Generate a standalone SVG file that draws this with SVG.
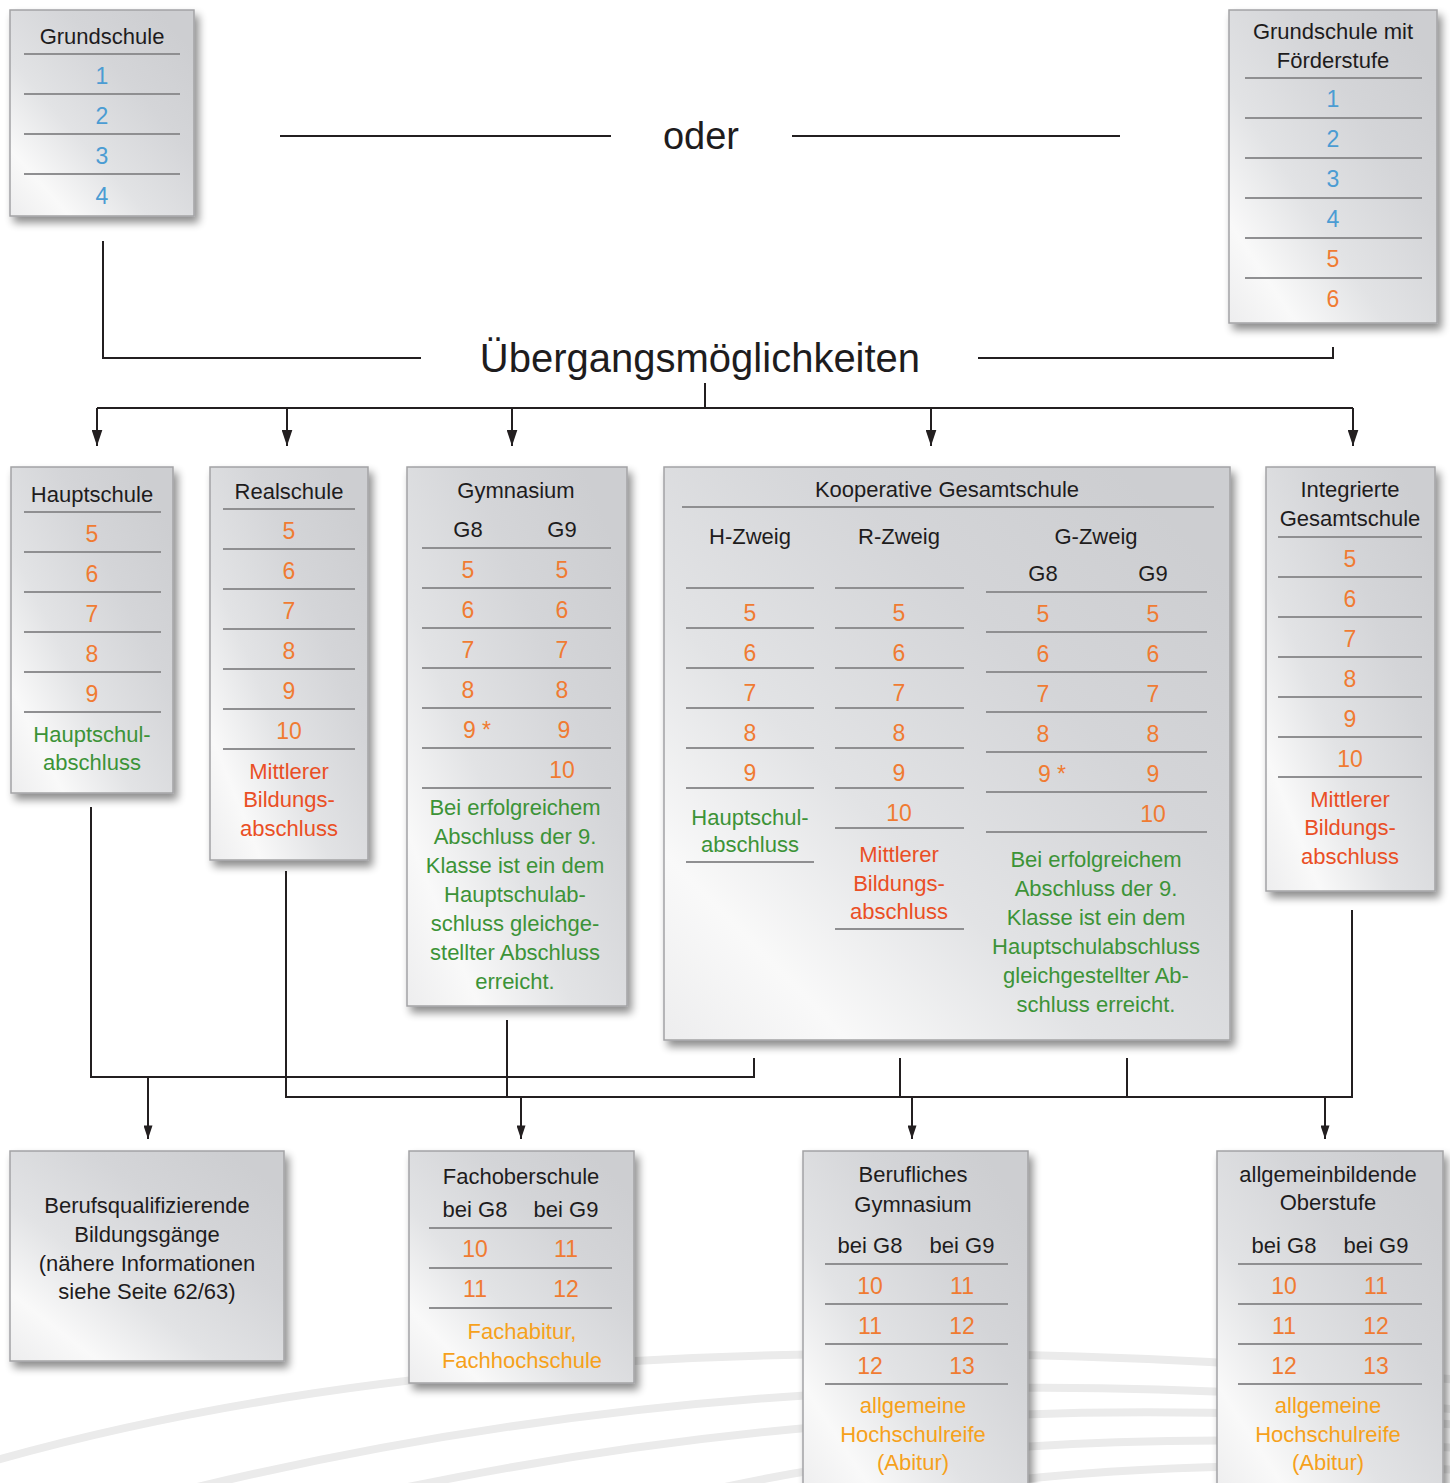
<svg xmlns="http://www.w3.org/2000/svg" width="1450" height="1483" viewBox="0 0 1450 1483">
<defs>
<linearGradient id="bg" x1="0" y1="1" x2="0.9" y2="0.1">
<stop offset="0" stop-color="#ededee"/>
<stop offset="0.18" stop-color="#f9f9f9"/>
<stop offset="0.42" stop-color="#e2e3e5"/>
<stop offset="0.72" stop-color="#d4d5d8"/>
<stop offset="1" stop-color="#cdced1"/>
</linearGradient>
<filter id="sh" x="-10%" y="-10%" width="130%" height="130%">
<feGaussianBlur in="SourceAlpha" stdDeviation="4"/>
<feOffset dx="4" dy="6"/>
<feComponentTransfer><feFuncA type="linear" slope="0.45"/></feComponentTransfer>
<feMerge><feMergeNode/><feMergeNode in="SourceGraphic"/></feMerge>
</filter>
<marker id="ah" viewBox="0 0 15 10" refX="15" refY="5" markerWidth="16" markerHeight="11" markerUnits="userSpaceOnUse" orient="auto">
<path d="M0,0 L15,5 L0,10 Z" fill="#231f20"/>
</marker>
<marker id="ah2" viewBox="0 0 15 10" refX="15" refY="5" markerWidth="14" markerHeight="9" markerUnits="userSpaceOnUse" orient="auto">
<path d="M0,0 L15,5 L0,10 Z" fill="#231f20"/>
</marker>
</defs>
<style>
text{font-family:"Liberation Sans",Arial,sans-serif;font-size:22px;text-anchor:middle;fill:#1e1c1d}
.bl{fill:#4b9cd3;font-size:23px}
.o{fill:#f07b32;font-size:23px}
.r{fill:#ea4f25}
.g{fill:#3c9337}
.y{fill:#f6a11b}
.box{fill:url(#bg);stroke:#a3a3a5;stroke-width:1.5;filter:url(#sh)}
.sep{stroke:#8f8f91;stroke-width:2}
.c{fill:none;stroke:#231f20;stroke-width:2}
.sw{fill:none;stroke:#ebebeb;stroke-width:8}
</style>

<g id="background">
<path class="sw" d="M -10 1462 Q 560 1300 1460 1380"/>
<path class="sw" d="M 185 1490 Q 800 1340 1460 1410"/>
<path class="sw" d="M 370 1495 Q 900 1380 1460 1425"/>
<path class="sw" d="M 690 1495 Q 1000 1420 1460 1448"/>
<path class="sw" d="M 900 1495 Q 1150 1455 1460 1470"/>
</g>

<g id="connectors">
<path class="c" stroke-width="2.5" d="M103 241 V358 H421"/>
<path class="c" stroke-width="2.5" d="M978 358 H1333 V347"/>
<line class="c" x1="280" y1="136" x2="611" y2="136"/>
<line class="c" x1="792" y1="136" x2="1120" y2="136"/>
<path class="c" stroke-width="2.5" d="M705 383 V408"/>
<path class="c" stroke-width="2.5" d="M97 408 H1353"/>
<line class="c" stroke-width="2.5" x1="97" y1="408" x2="97" y2="446" marker-end="url(#ah)"/>
<line class="c" stroke-width="2.5" x1="287" y1="408" x2="287" y2="446" marker-end="url(#ah)"/>
<line class="c" stroke-width="2.5" x1="512" y1="408" x2="512" y2="446" marker-end="url(#ah)"/>
<line class="c" stroke-width="2.5" x1="931" y1="408" x2="931" y2="446" marker-end="url(#ah)"/>
<line class="c" stroke-width="2.5" x1="1353" y1="408" x2="1353" y2="446" marker-end="url(#ah)"/>

<path class="c" d="M91 807 V1077"/>
<path class="c" stroke-width="3" d="M90 1077 H755"/>
<path class="c" d="M754 1058 V1077"/>
<path class="c" d="M286 871 V1097 H1352 V910"/>
<path class="c" stroke-width="1.5" d="M507 1020 V1097"/>
<path class="c" stroke-width="1.5" d="M900 1058 V1097"/>
<path class="c" stroke-width="2" d="M1127 1058 V1097"/>
<line class="c" stroke-width="1.5" x1="148" y1="1077" x2="148" y2="1139" marker-end="url(#ah2)"/>
<line class="c" stroke-width="1.5" x1="521" y1="1097" x2="521" y2="1139" marker-end="url(#ah2)"/>
<line class="c" stroke-width="1.5" x1="912" y1="1097" x2="912" y2="1139" marker-end="url(#ah2)"/>
<line class="c" stroke-width="1.5" x1="1325" y1="1097" x2="1325" y2="1139" marker-end="url(#ah2)"/>
</g>

<g id="labels">
<text x="701" y="149" style="font-size:38px">oder</text>
<text x="700" y="372" style="font-size:40px">Übergangsmöglichkeiten</text>
</g>

<g id="grundschule">
<rect class="box" x="10" y="10" width="184" height="206"/>
<text x="102" y="44">Grundschule</text>
<line class="sep" x1="24" y1="54" x2="180" y2="54"/>
<line class="sep" x1="24" y1="94" x2="180" y2="94"/>
<line class="sep" x1="24" y1="134" x2="180" y2="134"/>
<line class="sep" x1="24" y1="174" x2="180" y2="174"/>
<text class="bl" x="102" y="84">1</text>
<text class="bl" x="102" y="124">2</text>
<text class="bl" x="102" y="164">3</text>
<text class="bl" x="102" y="204">4</text>
</g>

<g id="grundschule-foerderstufe">
<rect class="box" x="1229" y="10" width="208" height="313"/>
<text x="1333" y="39">Grundschule mit</text>
<text x="1333" y="68">Förderstufe</text>
<line class="sep" x1="1245" y1="78" x2="1422" y2="78"/>
<line class="sep" x1="1245" y1="118" x2="1422" y2="118"/>
<line class="sep" x1="1245" y1="158" x2="1422" y2="158"/>
<line class="sep" x1="1245" y1="198" x2="1422" y2="198"/>
<line class="sep" x1="1245" y1="238" x2="1422" y2="238"/>
<line class="sep" x1="1245" y1="278" x2="1422" y2="278"/>
<text class="bl" x="1333" y="107">1</text>
<text class="bl" x="1333" y="147">2</text>
<text class="bl" x="1333" y="187">3</text>
<text class="bl" x="1333" y="227">4</text>
<text class="o" x="1333" y="267">5</text>
<text class="o" x="1333" y="307">6</text>
</g>

<g id="hauptschule">
<rect class="box" x="11" y="467" width="162" height="326"/>
<text x="92" y="502">Hauptschule</text>
<line class="sep" x1="24" y1="512" x2="161" y2="512"/>
<line class="sep" x1="24" y1="552" x2="161" y2="552"/>
<line class="sep" x1="24" y1="592" x2="161" y2="592"/>
<line class="sep" x1="24" y1="632" x2="161" y2="632"/>
<line class="sep" x1="24" y1="672" x2="161" y2="672"/>
<line class="sep" x1="24" y1="712" x2="161" y2="712"/>
<text class="o" x="92" y="542">5</text>
<text class="o" x="92" y="582">6</text>
<text class="o" x="92" y="622">7</text>
<text class="o" x="92" y="662">8</text>
<text class="o" x="92" y="702">9</text>
<text class="g" x="92" y="742">Hauptschul-</text>
<text class="g" x="92" y="770">abschluss</text>
</g>

<g id="realschule">
<rect class="box" x="210" y="467" width="158" height="393"/>
<text x="289" y="499">Realschule</text>
<line class="sep" x1="223" y1="509" x2="355" y2="509"/>
<line class="sep" x1="223" y1="549" x2="355" y2="549"/>
<line class="sep" x1="223" y1="589" x2="355" y2="589"/>
<line class="sep" x1="223" y1="629" x2="355" y2="629"/>
<line class="sep" x1="223" y1="669" x2="355" y2="669"/>
<line class="sep" x1="223" y1="709" x2="355" y2="709"/>
<line class="sep" x1="223" y1="749" x2="355" y2="749"/>
<text class="o" x="289" y="539">5</text>
<text class="o" x="289" y="579">6</text>
<text class="o" x="289" y="619">7</text>
<text class="o" x="289" y="659">8</text>
<text class="o" x="289" y="699">9</text>
<text class="o" x="289" y="739">10</text>
<text class="r" x="289" y="779">Mittlerer</text>
<text class="r" x="289" y="807">Bildungs-</text>
<text class="r" x="289" y="836">abschluss</text>
</g>

<g id="gymnasium">
<rect class="box" x="407" y="467" width="220" height="539"/>
<text x="516" y="498">Gymnasium</text>
<text x="468" y="537">G8</text>
<text x="562" y="537">G9</text>
<line class="sep" x1="422" y1="548" x2="611" y2="548"/>
<line class="sep" x1="422" y1="588" x2="611" y2="588"/>
<line class="sep" x1="422" y1="628" x2="611" y2="628"/>
<line class="sep" x1="422" y1="668" x2="611" y2="668"/>
<line class="sep" x1="422" y1="708" x2="611" y2="708"/>
<line class="sep" x1="422" y1="748" x2="611" y2="748"/>
<line class="sep" x1="422" y1="788" x2="611" y2="788"/>
<text class="o" x="468" y="578">5</text><text class="o" x="562" y="578">5</text>
<text class="o" x="468" y="618">6</text><text class="o" x="562" y="618">6</text>
<text class="o" x="468" y="658">7</text><text class="o" x="562" y="658">7</text>
<text class="o" x="468" y="698">8</text><text class="o" x="562" y="698">8</text>
<text class="o" x="477" y="738">9 *</text><text class="o" x="564" y="738">9</text>
<text class="o" x="562" y="778">10</text>
<text class="g" x="515" y="815">Bei erfolgreichem</text>
<text class="g" x="515" y="844">Abschluss der 9.</text>
<text class="g" x="515" y="873">Klasse ist ein dem</text>
<text class="g" x="515" y="902">Hauptschulab-</text>
<text class="g" x="515" y="931">schluss gleichge-</text>
<text class="g" x="515" y="960">stellter Abschluss</text>
<text class="g" x="515" y="989">erreicht.</text>
</g>

<g id="kooperative-gesamtschule">
<rect class="box" x="664" y="467" width="566" height="573"/>
<text x="947" y="497">Kooperative Gesamtschule</text>
<line class="sep" x1="682" y1="507" x2="1214" y2="507"/>
<text x="750" y="544">H-Zweig</text>
<text x="899" y="544">R-Zweig</text>
<text x="1096" y="544">G-Zweig</text>
<text x="1043" y="581">G8</text>
<text x="1153" y="581">G9</text>
<line class="sep" x1="686" y1="588" x2="814" y2="588"/>
<line class="sep" x1="686" y1="628" x2="814" y2="628"/>
<line class="sep" x1="686" y1="668" x2="814" y2="668"/>
<line class="sep" x1="686" y1="708" x2="814" y2="708"/>
<line class="sep" x1="686" y1="748" x2="814" y2="748"/>
<line class="sep" x1="686" y1="788" x2="814" y2="788"/>
<line class="sep" x1="686" y1="862" x2="814" y2="862"/>
<line class="sep" x1="835" y1="588" x2="964" y2="588"/>
<line class="sep" x1="835" y1="628" x2="964" y2="628"/>
<line class="sep" x1="835" y1="668" x2="964" y2="668"/>
<line class="sep" x1="835" y1="708" x2="964" y2="708"/>
<line class="sep" x1="835" y1="748" x2="964" y2="748"/>
<line class="sep" x1="835" y1="788" x2="964" y2="788"/>
<line class="sep" x1="835" y1="828" x2="964" y2="828"/>
<line class="sep" x1="835" y1="929" x2="964" y2="929"/>
<line class="sep" x1="986" y1="592" x2="1207" y2="592"/>
<line class="sep" x1="986" y1="632" x2="1207" y2="632"/>
<line class="sep" x1="986" y1="672" x2="1207" y2="672"/>
<line class="sep" x1="986" y1="712" x2="1207" y2="712"/>
<line class="sep" x1="986" y1="752" x2="1207" y2="752"/>
<line class="sep" x1="986" y1="792" x2="1207" y2="792"/>
<line class="sep" x1="986" y1="832" x2="1207" y2="832"/>
<text class="o" x="750" y="621">5</text><text class="o" x="899" y="621">5</text>
<text class="o" x="750" y="661">6</text><text class="o" x="899" y="661">6</text>
<text class="o" x="750" y="701">7</text><text class="o" x="899" y="701">7</text>
<text class="o" x="750" y="741">8</text><text class="o" x="899" y="741">8</text>
<text class="o" x="750" y="781">9</text><text class="o" x="899" y="781">9</text>
<text class="o" x="899" y="821">10</text>
<text class="o" x="1043" y="622">5</text><text class="o" x="1153" y="622">5</text>
<text class="o" x="1043" y="662">6</text><text class="o" x="1153" y="662">6</text>
<text class="o" x="1043" y="702">7</text><text class="o" x="1153" y="702">7</text>
<text class="o" x="1043" y="742">8</text><text class="o" x="1153" y="742">8</text>
<text class="o" x="1052" y="782">9 *</text><text class="o" x="1153" y="782">9</text>
<text class="o" x="1153" y="822">10</text>
<text class="g" x="750" y="825">Hauptschul-</text>
<text class="g" x="750" y="852">abschluss</text>
<text class="r" x="899" y="862">Mittlerer</text>
<text class="r" x="899" y="891">Bildungs-</text>
<text class="r" x="899" y="919">abschluss</text>
<text class="g" x="1096" y="867">Bei erfolgreichem</text>
<text class="g" x="1096" y="896">Abschluss der 9.</text>
<text class="g" x="1096" y="925">Klasse ist ein dem</text>
<text class="g" x="1096" y="954">Hauptschulabschluss</text>
<text class="g" x="1096" y="983">gleichgestellter Ab-</text>
<text class="g" x="1096" y="1012">schluss erreicht.</text>
</g>

<g id="integrierte-gesamtschule">
<rect class="box" x="1266" y="467" width="169" height="424"/>
<text x="1350" y="497">Integrierte</text>
<text x="1350" y="526">Gesamtschule</text>
<line class="sep" x1="1278" y1="537" x2="1422" y2="537"/>
<line class="sep" x1="1278" y1="577" x2="1422" y2="577"/>
<line class="sep" x1="1278" y1="617" x2="1422" y2="617"/>
<line class="sep" x1="1278" y1="657" x2="1422" y2="657"/>
<line class="sep" x1="1278" y1="697" x2="1422" y2="697"/>
<line class="sep" x1="1278" y1="737" x2="1422" y2="737"/>
<line class="sep" x1="1278" y1="777" x2="1422" y2="777"/>
<text class="o" x="1350" y="567">5</text>
<text class="o" x="1350" y="607">6</text>
<text class="o" x="1350" y="647">7</text>
<text class="o" x="1350" y="687">8</text>
<text class="o" x="1350" y="727">9</text>
<text class="o" x="1350" y="767">10</text>
<text class="r" x="1350" y="807">Mittlerer</text>
<text class="r" x="1350" y="835">Bildungs-</text>
<text class="r" x="1350" y="864">abschluss</text>
</g>

<g id="berufsqualifizierende">
<rect class="box" x="10" y="1151" width="274" height="210"/>
<text x="147" y="1213">Berufsqualifizierende</text>
<text x="147" y="1242">Bildungsgänge</text>
<text x="147" y="1271">(nähere Informationen</text>
<text x="147" y="1299">siehe Seite 62/63)</text>
</g>

<g id="fachoberschule">
<rect class="box" x="409" y="1151" width="225" height="232"/>
<text x="521" y="1184">Fachoberschule</text>
<text x="475" y="1217">bei G8</text>
<text x="566" y="1217">bei G9</text>
<line class="sep" x1="429" y1="1228" x2="612" y2="1228"/>
<line class="sep" x1="429" y1="1268" x2="612" y2="1268"/>
<line class="sep" x1="429" y1="1308" x2="612" y2="1308"/>
<text class="o" x="475" y="1257">10</text><text class="o" x="566" y="1257">11</text>
<text class="o" x="475" y="1297">11</text><text class="o" x="566" y="1297">12</text>
<text class="y" x="522" y="1339">Fachabitur,</text>
<text class="y" x="522" y="1368">Fachhochschule</text>
</g>

<g id="berufliches-gymnasium">
<rect class="box" x="803" y="1151" width="225" height="345"/>
<text x="913" y="1182">Berufliches</text>
<text x="913" y="1212">Gymnasium</text>
<text x="870" y="1253">bei G8</text>
<text x="962" y="1253">bei G9</text>
<line class="sep" x1="825" y1="1264" x2="1008" y2="1264"/>
<line class="sep" x1="825" y1="1304" x2="1008" y2="1304"/>
<line class="sep" x1="825" y1="1344" x2="1008" y2="1344"/>
<line class="sep" x1="825" y1="1384" x2="1008" y2="1384"/>
<text class="o" x="870" y="1294">10</text><text class="o" x="962" y="1294">11</text>
<text class="o" x="870" y="1334">11</text><text class="o" x="962" y="1334">12</text>
<text class="o" x="870" y="1374">12</text><text class="o" x="962" y="1374">13</text>
<text class="y" x="913" y="1413">allgemeine</text>
<text class="y" x="913" y="1442">Hochschulreife</text>
<text class="y" x="913" y="1470">(Abitur)</text>
</g>

<g id="allgemeinbildende-oberstufe">
<rect class="box" x="1217" y="1151" width="226" height="345"/>
<text x="1328" y="1182">allgemeinbildende</text>
<text x="1328" y="1210">Oberstufe</text>
<text x="1284" y="1253">bei G8</text>
<text x="1376" y="1253">bei G9</text>
<line class="sep" x1="1238" y1="1264" x2="1422" y2="1264"/>
<line class="sep" x1="1238" y1="1304" x2="1422" y2="1304"/>
<line class="sep" x1="1238" y1="1344" x2="1422" y2="1344"/>
<line class="sep" x1="1238" y1="1384" x2="1422" y2="1384"/>
<text class="o" x="1284" y="1294">10</text><text class="o" x="1376" y="1294">11</text>
<text class="o" x="1284" y="1334">11</text><text class="o" x="1376" y="1334">12</text>
<text class="o" x="1284" y="1374">12</text><text class="o" x="1376" y="1374">13</text>
<text class="y" x="1328" y="1413">allgemeine</text>
<text class="y" x="1328" y="1442">Hochschulreife</text>
<text class="y" x="1328" y="1470">(Abitur)</text>
</g>
</svg>
